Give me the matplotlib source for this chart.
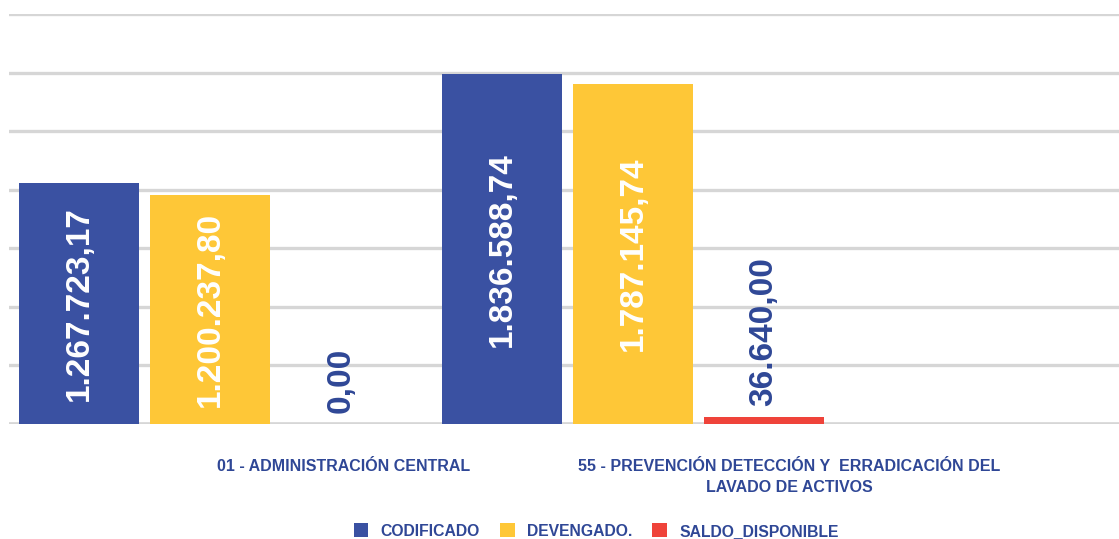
import matplotlib
matplotlib.use("Agg")
import matplotlib.pyplot as plt
import numpy as np
from matplotlib.patches import Patch

categories = ["01 - ADMINISTRACIÓN CENTRAL",
              "55 - PREVENCIÓN DETECCIÓN Y  ERRADICACIÓN DEL\nLAVADO DE ACTIVOS"]
series_names = ["CODIFICADO", "DEVENGADO.", "SALDO_DISPONIBLE"]
codificado = [1267723.17, 1836588.74]
devengado = [1200237.80, 1787145.74]
saldo = [0.00, 36640.00]

colors = ["#3a51a2", "#fec737", "#ef433a"]
label_blue = "#2f4796"
grid_col = "#d6d6d6"

plt.rcParams['font.family'] = ['Liberation Sans', 'DejaVu Sans']

W, H = 1119, 539
fig = plt.figure(figsize=(W / 100, H / 100), dpi=100)
base_px = 424
top_px = 14
left_px = 9
ax = fig.add_axes([left_px / W, (H - base_px) / H, (W - left_px) / W, (base_px - top_px) / H])

# x scale: one category = 423 px
cat_px = 423.0
x0 = -(210 - left_px) / cat_px
ax.set_xlim(x0, x0 + (W - left_px) / cat_px)

# y scale: tallest bar reaches 6th gridline
ymax_val = max(codificado) * 7 / 6 * 1.005
ax.set_ylim(0, ymax_val)
ax.set_yticks(np.linspace(0, ymax_val, 8))
ax.yaxis.grid(True, color=grid_col, linewidth=2.4)
ax.set_axisbelow(True)
ax.tick_params(left=False, labelleft=False, bottom=False, labelbottom=False)
for s in ax.spines.values():
    s.set_visible(False)
ax.axhline(0, color=grid_col, linewidth=2.6, zorder=1)

x = np.arange(len(categories))
bw = 120 / cat_px
step = 131 / cat_px
data = [codificado, devengado, saldo]

def fmt(v):
    s = f"{v:,.2f}"
    return s.replace(",", "X").replace(".", ",").replace("X", ".")

for k, (vals, col) in enumerate(zip(data, colors)):
    xs = x + (k - 1) * step
    ax.bar(xs, vals, width=bw, color=col, zorder=2)
    for xi, v in zip(xs, vals):
        if v > 0.3 * ymax_val:
            ax.text(xi, v / 2, fmt(v), rotation=90, ha="center", va="center",
                    color="white", fontsize=24, fontweight="bold", zorder=3)
        else:
            ax.annotate(fmt(v), (xi, v), xytext=(0, 8), textcoords="offset points",
                        rotation=90, ha="center", va="bottom",
                        color=label_blue, fontsize=24, fontweight="bold", zorder=3)

# category labels
label_offsets = [0.315, 0.37]
for xi, lab, off in zip(x, categories, label_offsets):
    ax.text(xi + off, -0.085 * ymax_val, lab, ha="center", va="top",
            color=label_blue, fontsize=11.5, fontweight="bold", linespacing=1.55)

handles = [Patch(facecolor=c, edgecolor="none") for c in colors]
leg = fig.legend(handles, series_names, loc="center", bbox_to_anchor=(596 / W, 1 - 531 / H),
                 ncol=3, frameon=False, handlelength=0.95, handleheight=0.95,
                 handletextpad=0.75, columnspacing=1.3, prop={"weight": "bold", "size": 11.3})
for t in leg.get_texts():
    t.set_color(label_blue)

fig.savefig("out.png", dpi=100)
